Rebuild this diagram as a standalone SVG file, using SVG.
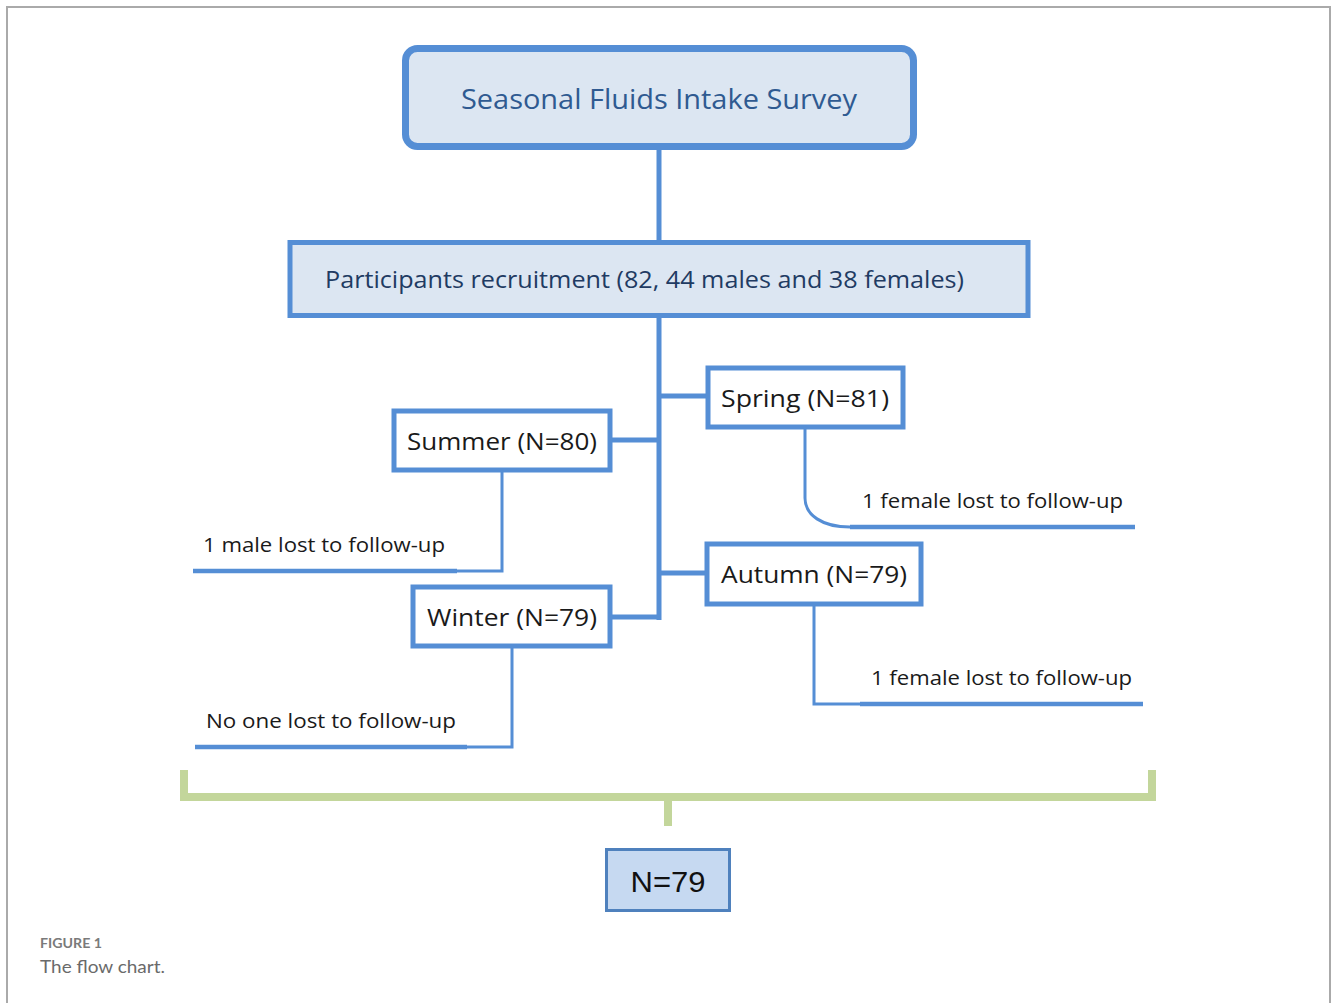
<svg xmlns="http://www.w3.org/2000/svg" width="1332" height="1003" viewBox="0 0 1332 1003">
<style>
.frame{fill:none;stroke:#aaaaaa;stroke-width:2}
.box{fill:#ffffff;stroke:#558ed5;stroke-width:5}
.ln{fill:none;stroke:#558ed5;stroke-width:5}
.thin{fill:none;stroke:#558ed5;stroke-width:3}
.ul{fill:none;stroke:#558ed5;stroke-width:4.5}
.grn{fill:none;stroke:#c3d69b;stroke-width:8}
.t{font-family:"Open Sans","Noto Sans","Liberation Sans",sans-serif;fill:#1a1a1a}
.season{font-size:24px}
.lost{font-size:20px}
</style>
<rect width="1332" height="1003" fill="#ffffff"/>
<path class="frame" d="M7 1003 V7 H1330 V1003"/>

<g id="connectors">
  <line class="ln" x1="659" y1="148" x2="659" y2="242"/>
  <line class="ln" x1="659" y1="316" x2="659" y2="620"/>
  <line class="ln" x1="659" y1="396" x2="708" y2="396"/>
  <line class="ln" x1="610" y1="440" x2="659" y2="440"/>
  <line class="ln" x1="659" y1="573" x2="707" y2="573"/>
  <line class="ln" x1="610" y1="617" x2="659" y2="617"/>
  <path class="thin" d="M502 470 V571 H456"/>
  <line class="ul" x1="193" y1="571" x2="457" y2="571"/>
  <path class="thin" d="M512 646 V747 H466"/>
  <line class="ul" x1="195" y1="747" x2="467" y2="747"/>
  <path class="thin" d="M805 427 V498 C805 515 822 527 850 527"/>
  <line class="ul" x1="850" y1="527" x2="1135" y2="527"/>
  <path class="thin" d="M814 604 V704 H861"/>
  <line class="ul" x1="860" y1="704" x2="1143" y2="704"/>
  <path class="grn" d="M184 770 V797 H1152 V770"/>
  <line class="grn" x1="668" y1="797" x2="668" y2="826"/>
</g>

<g id="survey">
  <rect x="405.5" y="48.5" width="508" height="98" rx="12" fill="#dce6f2" stroke="#558ed5" stroke-width="7"/>
  <text x="461" y="109" font-family="'Open Sans','Noto Sans','Liberation Sans',sans-serif" font-size="28" fill="#2f5a91" textLength="396" lengthAdjust="spacingAndGlyphs">Seasonal Fluids Intake Survey</text>
</g>

<g id="recruitment">
  <rect x="290" y="242.5" width="738" height="73" fill="#dce6f2" stroke="#558ed5" stroke-width="5"/>
  <text x="325" y="288" font-family="'Open Sans','Noto Sans','Liberation Sans',sans-serif" font-size="24" fill="#1f3b63" textLength="639" lengthAdjust="spacingAndGlyphs">Participants recruitment (82, 44 males and 38 females)</text>
</g>

<g id="spring">
  <rect class="box" x="708" y="368" width="195" height="59"/>
  <text class="t season" x="721" y="407" textLength="168" lengthAdjust="spacingAndGlyphs">Spring (N=81)</text>
</g>

<g id="summer">
  <rect class="box" x="394" y="411" width="216" height="59"/>
  <text class="t season" x="407" y="450" textLength="190" lengthAdjust="spacingAndGlyphs">Summer (N=80)</text>
</g>

<g id="autumn">
  <rect class="box" x="707" y="544" width="214" height="60"/>
  <text class="t season" x="721" y="583" textLength="186" lengthAdjust="spacingAndGlyphs">Autumn (N=79)</text>
</g>

<g id="winter">
  <rect class="box" x="413" y="587" width="197" height="59"/>
  <text class="t season" x="427" y="626" textLength="170" lengthAdjust="spacingAndGlyphs">Winter (N=79)</text>
</g>

<g id="lost-summer">
  <text class="t lost" x="203" y="552" textLength="242" lengthAdjust="spacingAndGlyphs">1 male lost to follow-up</text>
</g>
<g id="lost-winter">
  <text class="t lost" x="206" y="728" textLength="250" lengthAdjust="spacingAndGlyphs">No one lost to follow-up</text>
</g>
<g id="lost-spring">
  <text class="t lost" x="862" y="508" textLength="261" lengthAdjust="spacingAndGlyphs">1 female lost to follow-up</text>
</g>
<g id="lost-autumn">
  <text class="t lost" x="871" y="685" textLength="261" lengthAdjust="spacingAndGlyphs">1 female lost to follow-up</text>
</g>

<g id="final">
  <rect x="606.5" y="849.5" width="123" height="61" fill="#c6d9f1" stroke="#4f81bd" stroke-width="3"/>
  <text x="668" y="892" text-anchor="middle" font-family="'Liberation Sans','DejaVu Sans',sans-serif" font-size="30" fill="#111111" textLength="75" lengthAdjust="spacingAndGlyphs">N=79</text>
</g>

<g id="caption">
  <text x="40" y="948" font-family="Lato,'Open Sans','Liberation Sans',sans-serif" font-size="13" font-weight="bold" fill="#7a7a7a" textLength="62" lengthAdjust="spacingAndGlyphs">FIGURE 1</text>
  <text x="40" y="973" font-family="Lato,'Open Sans','Liberation Sans',sans-serif" font-size="18" fill="#6a6a6a" textLength="125" lengthAdjust="spacingAndGlyphs">The flow chart.</text>
</g>
</svg>
